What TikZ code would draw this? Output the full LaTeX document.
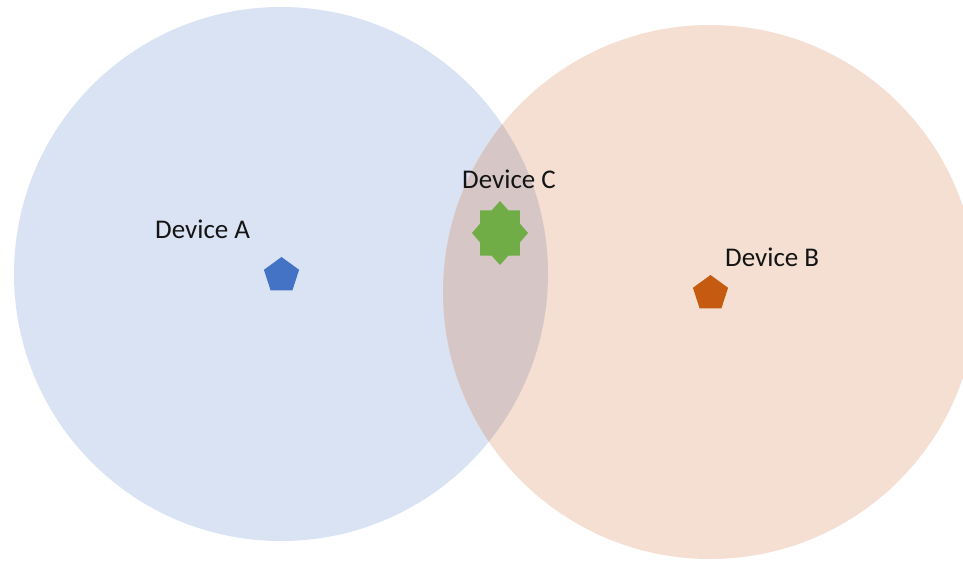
\documentclass[tikz,border=0pt]{standalone}
\usepackage{fontspec}
\setmainfont{Carlito}
\usetikzlibrary{shapes.geometric}
\definecolor{fillA}{RGB}{218,227,243}
\definecolor{fillB}{RGB}{244,223,210}
\definecolor{fillAB}{RGB}{214,198,198}
\definecolor{devA}{RGB}{68,114,196}
\definecolor{devB}{RGB}{197,90,17}
\definecolor{devC}{RGB}{112,173,71}
\definecolor{txt}{RGB}{20,20,20}
\tikzset{
  rangecircle/.style={circle, minimum size=534pt, inner sep=0pt},
  penta/.style={regular polygon, regular polygon sides=5, minimum size=37pt, inner sep=0pt},
  label text/.style={inner sep=0pt, anchor=base west, text=txt, font=\fontsize{27}{30}\selectfont}
}
\begin{document}
\begin{tikzpicture}[x=1pt, y=-1pt]
\useasboundingbox (0,0) rectangle (963,560);
\clip (0,0) rectangle (963,560);
\node[rangecircle, fill=fillA] (cA) at (281,274) {};
\node[rangecircle, fill=fillB] (cB) at (710,292) {};
\begin{scope}
  \clip (281,274) circle (267);
  \fill[fillAB] (710,292) circle (267);
\end{scope}
\node[penta, fill=devA] (pA) at (281.5,275.5) {};
\node[penta, fill=devB] (pB) at (710.5,293.5) {};
\begin{scope}[shift={(500,233)}, xscale=0.875]
  \node[star, star points=8, star point ratio=1.3, minimum size=64pt, inner sep=0pt, fill=devC, transform shape] (sC) at (0,0) {};
\end{scope}
\node[label text] (tA) at (155,238) {Device A};
\node[label text] (tC) at (462,188) {Device C};
\node[label text] (tB) at (725,266) {Device B};
\end{tikzpicture}
\end{document}
